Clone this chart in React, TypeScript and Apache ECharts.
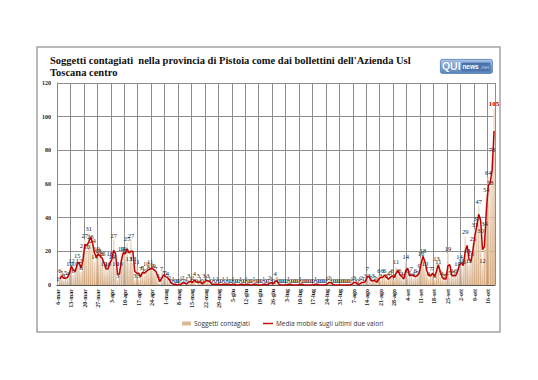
import React, { useEffect, useRef } from "react";
import * as echarts from "echarts";

const startDate = { year: 2020, month: 2, day: 6 };
const monthNames = ["gen", "feb", "mar", "apr", "mag", "giu", "lug", "ago", "set", "ott", "nov", "dic"];

// Daily new cases (Soggetti contagiati), 6-mar .. 19-ott
const marchValues = [1, 6, 5, 3, 5, 4, 10, 12, 6, 10, 15, 12, 8, 21, 27, 20, 31, 26, 24, 14, 19, 18, 16, 16, 10, 9];
const aprilValues = [10, 16, 14, 27, 10, 3, 10, 19, 19, 18, 25, 13, 27, 13, 3, 11, 3, 7, 8, 6, 10, 8, 11, 9, 9, 7, 3, 1, 7, 5];
const mayValues = [5, 4, 2, 0, 1, 0, 0, 0, 1, 2, 0, 1, 3, 1, 2, 4, 0, 3, 1, 0, 3, 2, 3, 1, 0, 1, 0, 1, 0, 0, 1];
const juneValues = [0, 1, 0, 0, 1, 0, 0, 0, 1, 0, 0, 1, 0, 0, 0, 1, 0, 0, 0, 0, 1, 0, 0, 2, 1, 0, 4, 1, 0, 0];
const julyValues = [0, 0, 0, 1, 0, 0, 0, 0, 0, 1, 0, 0, 0, 0, 0, 0, 0, 1, 0, 0, 0, 0, 0, 1, 2, 1, 0, 0, 0, 0, 0];
const augustValues = [0, 0, 0, 0, 0, 1, 2, 1, 0, 1, 2, 1, 3, 7, 3, 2, 3, 2, 1, 6, 3, 6, 6, 3, 4, 5, 6, 3, 11, 6, 6];
const septemberValues = [4, 3, 14, 6, 5, 7, 4, 6, 5, 9, 16, 18, 10, 7, 4, 7, 7, 3, 13, 11, 5, 4, 3, 4, 19, 5, 6, 5, 6, 10];
const octoberValues = [14, 12, 11, 29, 18, 12, 16, 25, 33, 37, 47, 30, 12, 34, 54, 64, 58, 78, 105];

const yTicks = [0, 20, 40, 60, 80, 100, 120];

const dailyValues = [
  ...marchValues, ...aprilValues, ...mayValues, ...juneValues,
  ...julyValues, ...augustValues, ...septemberValues, ...octoberValues,
];

function buildCategories(n: number): string[] {
  const out: string[] = [];
  const d = new Date(startDate.year, startDate.month, startDate.day);
  for (let i = 0; i < n; i++) {
    out.push(d.getDate() + "-" + monthNames[d.getMonth()]);
    d.setDate(d.getDate() + 1);
  }
  return out;
}

export default function App() {
  const ref = useRef<HTMLDivElement>(null);
  useEffect(() => {
    if (!ref.current) return;
    const chart = echarts.init(ref.current, null, { renderer: "svg" });
    const categories = buildCategories(dailyValues.length);
    const maxIdx = dailyValues.length - 1;
    const movingAvg = dailyValues.map((v, i) => (i === 0 ? null : (dailyValues[i - 1] + v) / 2));
    const barData = dailyValues.map((v, i) =>
      i === maxIdx
        ? { value: v, label: { color: "#c00000", fontWeight: "bold", fontSize: 7 } }
        : v
    );
    const serif = "'Liberation Serif', 'DejaVu Serif', serif";
    const sans = "'Open Sans', 'Liberation Sans', sans-serif";
    chart.setOption({
      animation: false,
      backgroundColor: "#ffffff",
      grid: { left: 57, right: 43, top: 83, bottom: 95, containLabel: false },
      title: {
        text: "Soggetti contagiati  nella provincia di Pistoia come dai bollettini dell'Azienda Usl\nToscana centro",
        left: 50,
        top: 54,
        padding: 0,
        textStyle: { fontFamily: serif, fontSize: 10.5, fontWeight: "bold", color: "#111", lineHeight: 12.5 },
      },
      legend: [
        {
          left: 182,
          top: 320,
          padding: 0,
          itemWidth: 9,
          itemHeight: 4,
          itemGap: 2,
          textStyle: { fontFamily: sans, fontSize: 6.5, color: "#333", padding: [0, 0, 0, -2] },
          data: [{ name: "Soggetti contagiati", icon: "rect", itemStyle: { color: "#dcb795" } }],
        },
        {
          left: 263,
          top: 320,
          padding: 0,
          itemWidth: 10,
          itemHeight: 1.4,
          textStyle: { fontFamily: sans, fontSize: 6.5, color: "#333", padding: [0, 0, 0, -2] },
          data: [{ name: "Media mobile sugli ultimi due valori", icon: "rect", itemStyle: { color: "#c00000" } }],
        },
      ],
      xAxis: {
        type: "category",
        data: categories,
        boundaryGap: true,
        axisLine: { lineStyle: { color: "#555", width: 1 } },
        axisTick: { show: false },
        axisLabel: {
          interval: 6,
          rotate: 90,
          fontFamily: serif,
          fontSize: 6,
          fontWeight: "bold",
          color: "#222",
          margin: 4,
        },
        splitLine: { show: true, interval: 6, lineStyle: { color: "#8e8e8e", width: 1 } },
      },
      yAxis: {
        type: "value",
        min: yTicks[0],
        max: yTicks[yTicks.length - 1],
        interval: 20,
        axisLine: { show: true, lineStyle: { color: "#888", width: 1 } },
        axisTick: { show: false },
        axisLabel: { fontFamily: serif, fontSize: 6, fontWeight: "bold", color: "#222", margin: 6 },
        splitLine: { show: true, lineStyle: { color: "#8e8e8e", width: 1 } },
      },
      series: [
        {
          name: "Soggetti contagiati",
          type: "bar",
          data: barData,
          barWidth: 1.6,
          itemStyle: {
            color: new echarts.graphic.LinearGradient(0, 0, 0, 1, [
              { offset: 0, color: "#f0e2d2" },
              { offset: 1, color: "#d4aa80" },
            ]),
          },
          label: {
            show: true,
            position: "top",
            distance: 1,
            fontFamily: serif,
            fontSize: 6.5,
            color: "#222",
          },
          z: 2,
        },
        {
          name: "Media mobile sugli ultimi due valori",
          type: "line",
          data: movingAvg,
          showSymbol: false,
          symbol: "none",
          lineStyle: { color: "#c00000", width: 1.5 },
          itemStyle: { color: "#c00000" },
          z: 3,
        },
      ],
      graphic: [
        {
          type: "rect",
          shape: { x: 37, y: 47, width: 463, height: 285 },
          style: { fill: "none", stroke: "#a3a3a3", lineWidth: 1.5 },
          silent: true,
        },
        {
          type: "group",
          left: 440,
          top: 59,
          children: [
            {
              type: "rect",
              shape: { x: 0, y: 0, width: 52, height: 14, r: 2 },
              style: {
                fill: new echarts.graphic.LinearGradient(0, 0, 0, 1, [
                  { offset: 0, color: "#a9c3e6" },
                  { offset: 1, color: "#5d86bf" },
                ]),
                stroke: "#4f78b2",
                lineWidth: 0.8,
              },
            },
            {
              type: "rect",
              shape: { x: 21, y: 3, width: 29, height: 9, r: 1 },
              style: { fill: "#4b74ad" },
            },
            {
              type: "text",
              x: 1.5,
              y: 1.5,
              style: { text: "QUI", fill: "#ffffff", font: "bold 10.5px 'Liberation Sans', sans-serif", stroke: "#3b639c", lineWidth: 0.5 },
            },
            {
              type: "text",
              x: 22,
              y: 3.5,
              style: { text: "news", fill: "#ffffff", font: "bold 6.5px 'Liberation Sans', sans-serif" },
            },
            {
              type: "text",
              x: 39.5,
              y: 5,
              style: { text: ".net", fill: "#b9cfee", font: "5.5px 'Liberation Sans', sans-serif" },
            },
          ],
        },
      ],
    });
    return () => chart.dispose();
  }, []);
  return <div ref={ref} style={{ position: "fixed", left: 0, top: 0, width: 538, height: 380 }} />;
}
